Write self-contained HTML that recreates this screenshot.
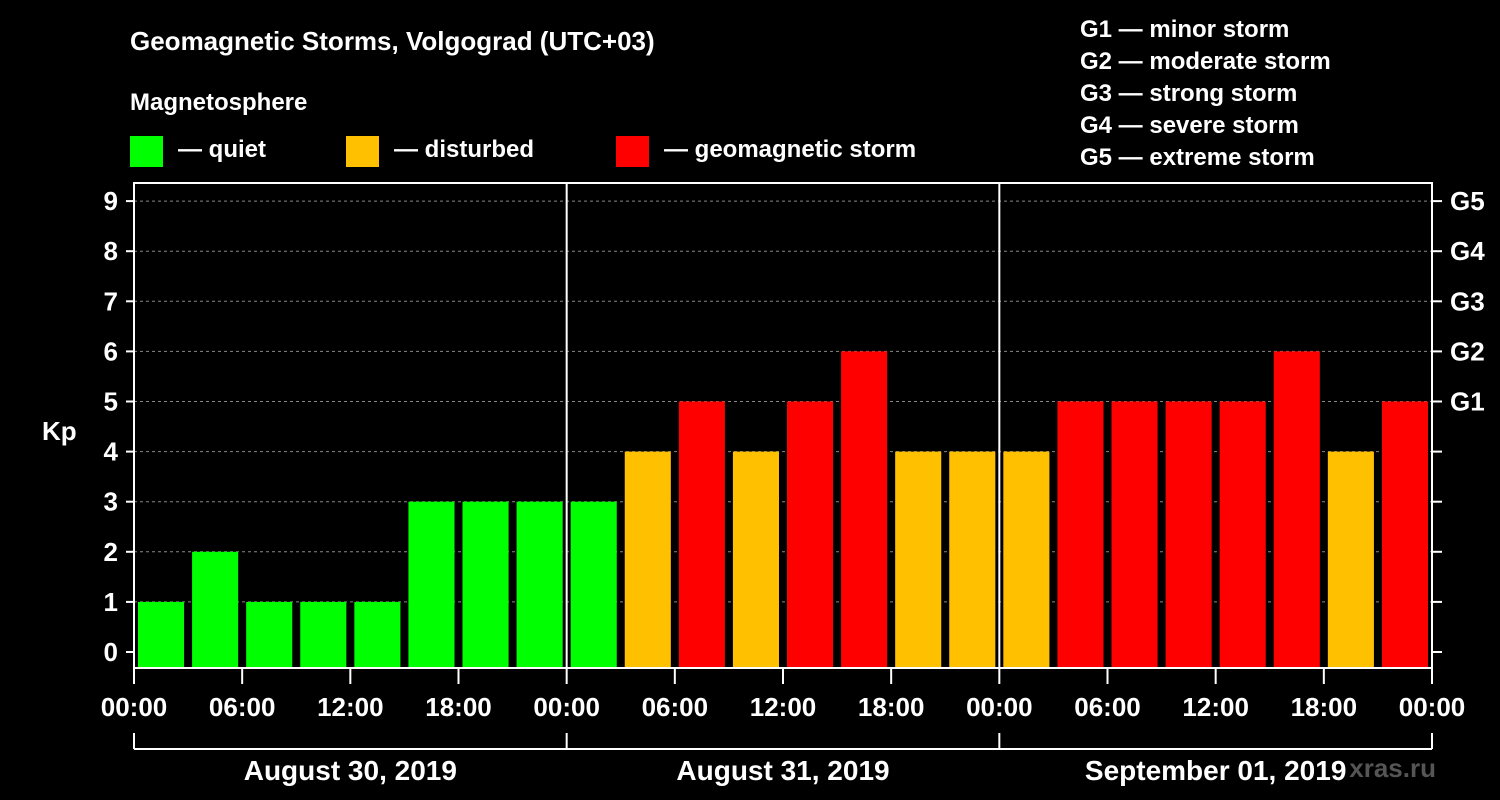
<!DOCTYPE html>
<html><head><meta charset="utf-8"><style>
body{margin:0;background:#000;width:1500px;height:800px;overflow:hidden}
svg{display:block;font-family:"Liberation Sans",Arial,sans-serif;font-weight:bold;fill:#fff}
</style></head><body>
<svg id="c" width="1500" height="800">
<text x="130" y="50" font-size="26">Geomagnetic Storms, Volgograd (UTC+03)</text>
<text x="130" y="110" font-size="24">Magnetosphere</text>
<rect x="130" y="136" width="33" height="31" fill="#00ff00"/>
<text x="178" y="157" font-size="24">— quiet</text>
<rect x="346" y="136" width="33" height="31" fill="#ffc000"/>
<text x="394" y="157" font-size="24">— disturbed</text>
<rect x="616" y="136" width="33" height="31" fill="#ff0000"/>
<text x="664" y="157" font-size="24">— geomagnetic storm</text>
<g font-size="24">
<text x="1080" y="37">G1 — minor storm</text>
<text x="1080" y="69">G2 — moderate storm</text>
<text x="1080" y="101">G3 — strong storm</text>
<text x="1080" y="133">G4 — severe storm</text>
<text x="1080" y="165">G5 — extreme storm</text>
</g>
<text x="42" y="440" font-size="26">Kp</text>
<text x="1436" y="777" font-size="26" fill="#555" text-anchor="end">xras.ru</text>
<g id="grid"></g><g id="bars"></g><g id="axes"></g>
</svg>
<script>
const kpValues=[1,2,1,1,1,3,3,3, 3,4,5,4,5,6,4,4, 4,5,5,5,5,6,4,5];
const dayLabels=["August 30, 2019","August 31, 2019","September 01, 2019"];
const timeLabels=["00:00","06:00","12:00","18:00"];
const yTicks=[0,1,2,3,4,5,6,7,8,9];
const gLabels=["G1","G2","G3","G4","G5"];
const NS="http://www.w3.org/2000/svg";
const X0=134,X1=1432,Y0=668,YT=183;
const dayW=(X1-X0)/3, slotW=dayW/8;
const yS=v=>652-v*50.1;
const xS=i=>X0+i*slotW;
function mk(tag,attrs,parent){const e=document.createElementNS(NS,tag);for(const k in attrs)e.setAttribute(k,attrs[k]);document.getElementById(parent).appendChild(e);return e;}
yTicks.forEach(v=>{
 if(v>0){const l=mk('line',{x1:X0,x2:X1,y1:yS(v),y2:yS(v),stroke:'#888','stroke-dasharray':'3,3','stroke-width':1},'grid');
 
 }
 const t=mk('text',{x:118,y:yS(v)+9,'font-size':26,'text-anchor':'end'},'axes');t.textContent=v;
 
 
 mk('line',{x1:X0-8,x2:X0,y1:yS(v),y2:yS(v),stroke:'#fff','stroke-width':2},'axes');
 mk('line',{x1:X1,x2:X1+10,y1:yS(v),y2:yS(v),stroke:'#fff','stroke-width':2},'axes');
});
gLabels.forEach((g,i)=>{const t=mk('text',{x:1450,y:yS(5+i)+9,'font-size':26},'axes');t.textContent=g;
 
 });
kpValues.forEach((v,i)=>{
 const c=v<=3?'#00ff00':(v==4?'#ffc000':'#ff0000');
 const r=mk('rect',{x:xS(i)+4,y:yS(v),width:slotW-8,height:Y0-yS(v),fill:c},'bars');
 
 
});
mk('rect',{x:X0,y:YT,width:X1-X0,height:Y0-YT,fill:'none',stroke:'#fff','stroke-width':2},'axes');
for(let d=0;d<3;d++){
 if(d>0)mk('line',{x1:X0+d*dayW,x2:X0+d*dayW,y1:YT,y2:Y0,stroke:'#fff','stroke-width':2},'axes');
 const t=mk('text',{x:X0+d*dayW+dayW/2,y:780,'font-size':28,'text-anchor':'middle'},'axes');t.textContent=dayLabels[d];
 
 
}
for(let k=0;k<=12;k++){
 const x=X0+k*slotW*2;
 mk('line',{x1:x,x2:x,y1:Y0,y2:Y0+16,stroke:'#fff','stroke-width':2},'axes');
 const t=mk('text',{x:x,y:716,'font-size':26,'text-anchor':'middle'},'axes');t.textContent=timeLabels[k%4];
 
 
}
mk('line',{x1:X0,x2:X1,y1:749,y2:749,stroke:'#fff','stroke-width':2},'axes');
for(let d=0;d<=3;d++)mk('line',{x1:X0+d*dayW,x2:X0+d*dayW,y1:733,y2:749,stroke:'#fff','stroke-width':2},'axes');
</script>
</body></html>
